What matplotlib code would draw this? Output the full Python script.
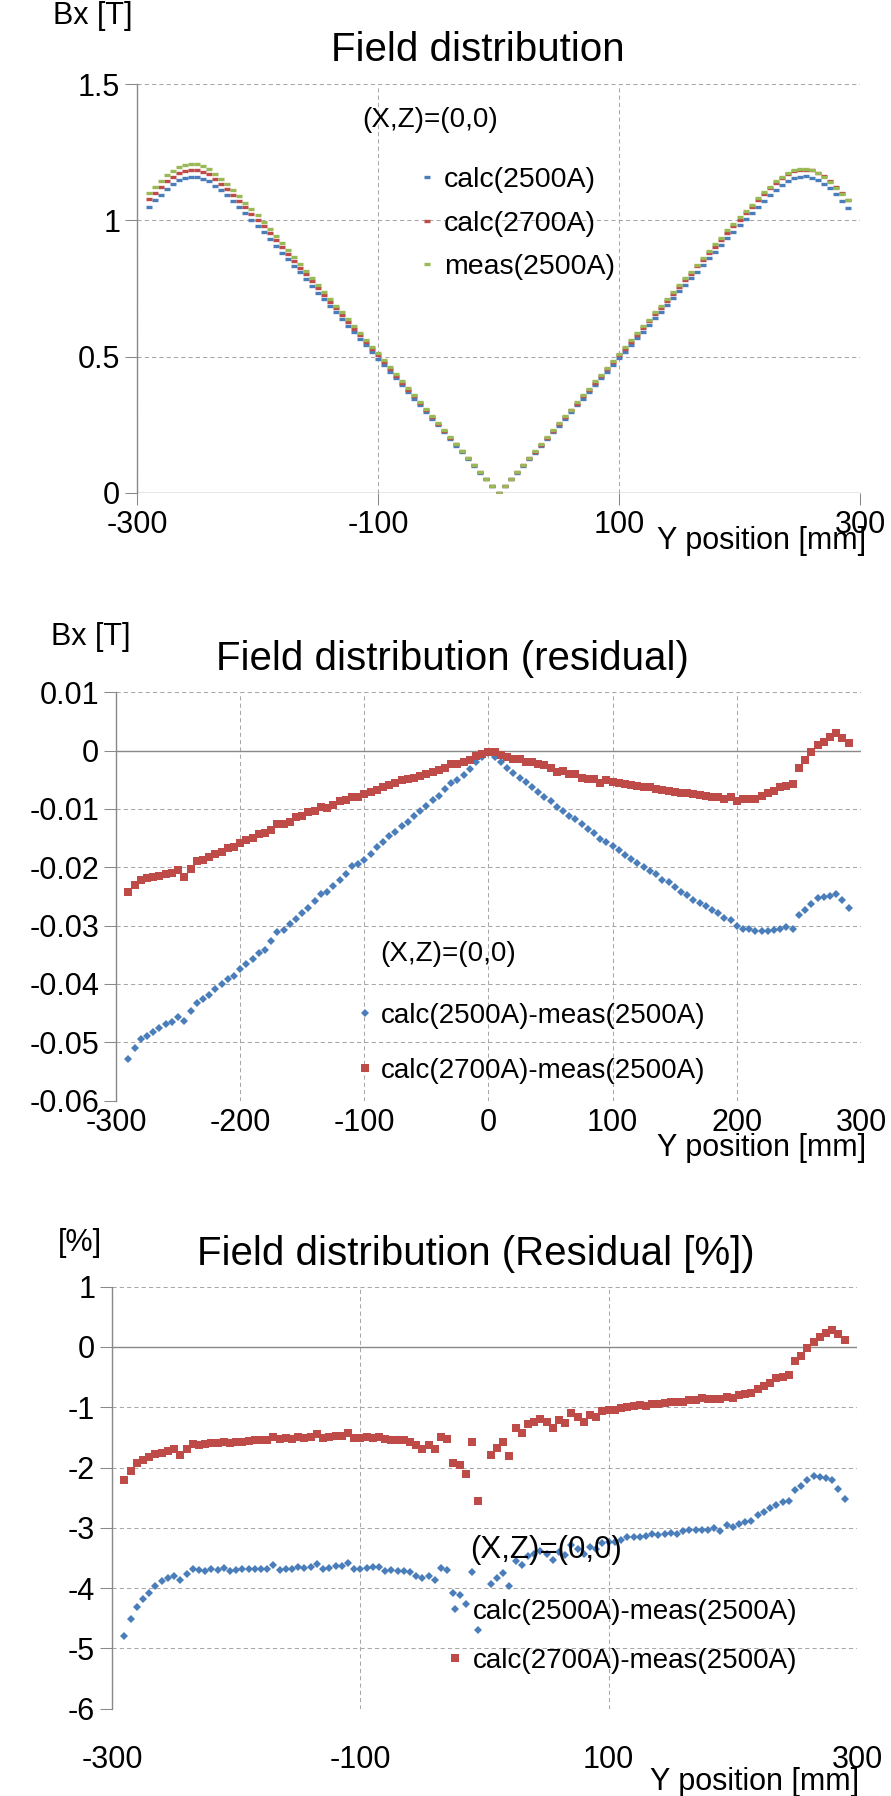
import numpy as np
import matplotlib
matplotlib.use('Agg')
import matplotlib.pyplot as plt

plt.rcParams['font.family'] = ['Liberation Sans', 'DejaVu Sans']

# --- data ---
y_pos = np.arange(-290, 295, 5)  # Y position [mm], 5 mm step

calc_2500 = [1.049, 1.073, 1.094, 1.116, 1.134, 1.147, 1.156, 1.159, 1.159, 1.153,
             1.144, 1.127, 1.110, 1.092, 1.071, 1.049, 1.026, 1.003, 0.980, 0.956,
             0.931, 0.907, 0.882, 0.858, 0.833, 0.809, 0.784, 0.760, 0.735, 0.711,
             0.686, 0.662, 0.638, 0.614, 0.590, 0.565, 0.541, 0.517, 0.493, 0.468,
             0.444, 0.420, 0.395, 0.371, 0.346, 0.322, 0.297, 0.272, 0.248, 0.223,
             0.198, 0.174, 0.149, 0.124, 0.099, 0.075, 0.050, 0.025, 0.000,
             0.025, 0.050, 0.074, 0.099, 0.124, 0.148, 0.173, 0.198, 0.222, 0.247,
             0.272, 0.296, 0.321, 0.346, 0.370, 0.395, 0.420, 0.444, 0.469, 0.494,
             0.518, 0.543, 0.567, 0.592, 0.616, 0.641, 0.665, 0.690, 0.714, 0.739,
             0.763, 0.787, 0.812, 0.836, 0.861, 0.885, 0.909, 0.934, 0.958, 0.982,
             1.005, 1.027, 1.050, 1.072, 1.093, 1.112, 1.129, 1.145, 1.155, 1.160,
             1.161, 1.157, 1.148, 1.135, 1.117, 1.095, 1.072, 1.046]

calc_2700 = [1.078, 1.101, 1.122, 1.143, 1.160, 1.173, 1.182, 1.185, 1.184, 1.177,
             1.169, 1.151, 1.134, 1.116, 1.094, 1.072, 1.048, 1.025, 1.002, 0.978,
             0.952, 0.928, 0.902, 0.877, 0.851, 0.827, 0.802, 0.778, 0.752, 0.727,
             0.702, 0.677, 0.652, 0.628, 0.603, 0.578, 0.553, 0.528, 0.505, 0.479,
             0.454, 0.430, 0.404, 0.379, 0.354, 0.329, 0.303, 0.278, 0.254, 0.228,
             0.203, 0.178, 0.153, 0.127, 0.101, 0.076, 0.051, 0.025, 0.000,
             0.026, 0.051, 0.076, 0.101, 0.127, 0.151, 0.177, 0.203, 0.228, 0.253,
             0.278, 0.303, 0.328, 0.354, 0.378, 0.404, 0.429, 0.454, 0.480, 0.505,
             0.529, 0.555, 0.580, 0.605, 0.630, 0.656, 0.679, 0.705, 0.730, 0.755,
             0.780, 0.805, 0.831, 0.854, 0.880, 0.904, 0.929, 0.955, 0.979, 1.003,
             1.028, 1.050, 1.073, 1.095, 1.117, 1.136, 1.154, 1.169, 1.180, 1.185,
             1.186, 1.183, 1.174, 1.162, 1.144, 1.123, 1.100, 1.074]

meas_2500 = [1.102, 1.124, 1.144, 1.165, 1.182, 1.195, 1.203, 1.206, 1.205, 1.199,
             1.189, 1.170, 1.153, 1.134, 1.112, 1.089, 1.065, 1.042, 1.018, 0.993,
             0.967, 0.942, 0.916, 0.891, 0.864, 0.840, 0.814, 0.789, 0.763, 0.738,
             0.712, 0.687, 0.662, 0.637, 0.612, 0.586, 0.561, 0.536, 0.512, 0.486,
             0.461, 0.436, 0.410, 0.385, 0.359, 0.334, 0.308, 0.282, 0.258, 0.232,
             0.206, 0.181, 0.155, 0.129, 0.103, 0.078, 0.052, 0.026, 0.000,
             0.026, 0.052, 0.077, 0.103, 0.129, 0.153, 0.179, 0.205, 0.230, 0.256,
             0.282, 0.306, 0.332, 0.358, 0.383, 0.409, 0.434, 0.459, 0.485, 0.510,
             0.535, 0.561, 0.586, 0.611, 0.636, 0.662, 0.686, 0.712, 0.737, 0.762,
             0.787, 0.812, 0.838, 0.862, 0.888, 0.912, 0.937, 0.963, 0.987, 1.012,
             1.036, 1.058, 1.081, 1.103, 1.124, 1.143, 1.160, 1.175, 1.186, 1.188,
             1.188, 1.183, 1.173, 1.160, 1.142, 1.120, 1.098, 1.073]

# calc - meas [T]
res_2500 = [-0.0529, -0.0510, -0.0495, -0.0489, -0.0483, -0.0476, -0.0469, -0.0465, -0.0456, -0.0463,
            -0.0447, -0.0432, -0.0426, -0.0419, -0.0409, -0.0400, -0.0392, -0.0386, -0.0375, -0.0366,
            -0.0358, -0.0347, -0.0341, -0.0327, -0.0311, -0.0307, -0.0298, -0.0289, -0.0278, -0.0269,
            -0.0257, -0.0246, -0.0242, -0.0232, -0.0222, -0.0211, -0.0198, -0.0194, -0.0187, -0.0177,
            -0.0166, -0.0156, -0.0147, -0.0140, -0.0130, -0.0122, -0.0112, -0.0103, -0.0095, -0.0085,
            -0.0078, -0.0065, -0.0056, -0.0050, -0.0041, -0.0032, -0.0019, -0.0010, -0.0004,
            -0.0011, -0.0019, -0.0029, -0.0039, -0.0046, -0.0053, -0.0062, -0.0070, -0.0079, -0.0087,
            -0.0097, -0.0103, -0.0112, -0.0118, -0.0125, -0.0135, -0.0142, -0.0152, -0.0156, -0.0163,
            -0.0171, -0.0179, -0.0186, -0.0193, -0.0199, -0.0206, -0.0211, -0.0221, -0.0226, -0.0233,
            -0.0242, -0.0247, -0.0256, -0.0261, -0.0266, -0.0273, -0.0279, -0.0287, -0.0291, -0.0301,
            -0.0305, -0.0306, -0.0310, -0.0309, -0.0309, -0.0307, -0.0305, -0.0303, -0.0305, -0.0282,
            -0.0273, -0.0263, -0.0253, -0.0251, -0.0249, -0.0245, -0.0256, -0.0270]

res_2700 = [-0.0243, -0.0230, -0.0221, -0.0219, -0.0216, -0.0215, -0.0211, -0.0209, -0.0205, -0.0216,
            -0.0203, -0.0190, -0.0187, -0.0183, -0.0177, -0.0173, -0.0167, -0.0165, -0.0159, -0.0154,
            -0.0149, -0.0143, -0.0141, -0.0136, -0.0126, -0.0126, -0.0122, -0.0114, -0.0112, -0.0106,
            -0.0103, -0.0096, -0.0099, -0.0093, -0.0087, -0.0085, -0.0079, -0.0080, -0.0074, -0.0070,
            -0.0067, -0.0063, -0.0059, -0.0056, -0.0051, -0.0049, -0.0046, -0.0043, -0.0040, -0.0036,
            -0.0033, -0.0029, -0.0022, -0.0023, -0.0019, -0.0016, -0.0009, -0.0006, -0.0002,
            -0.0003, -0.0007, -0.0011, -0.0015, -0.0015, -0.0019, -0.0019, -0.0023, -0.0025, -0.0029,
            -0.0036, -0.0034, -0.0040, -0.0040, -0.0046, -0.0049, -0.0049, -0.0055, -0.0050, -0.0053,
            -0.0056, -0.0057, -0.0059, -0.0061, -0.0063, -0.0063, -0.0066, -0.0067, -0.0069, -0.0070,
            -0.0072, -0.0073, -0.0074, -0.0076, -0.0078, -0.0079, -0.0080, -0.0083, -0.0080, -0.0086,
            -0.0083, -0.0082, -0.0082, -0.0078, -0.0073, -0.0069, -0.0063, -0.0061, -0.0057, -0.0029,
            -0.0016, -0.0003, 0.0010, 0.0015, 0.0023, 0.0030, 0.0021, 0.0014]

# residual in percent (point at Y=0 is off scale)
pct_2500 = [-4.80, -4.52, -4.31, -4.18, -4.08, -3.96, -3.89, -3.83, -3.80, -3.86,
            -3.76, -3.69, -3.70, -3.71, -3.69, -3.70, -3.67, -3.71, -3.70, -3.69,
            -3.69, -3.69, -3.69, -3.69, -3.61, -3.70, -3.69, -3.69, -3.65, -3.67,
            -3.65, -3.60, -3.69, -3.67, -3.64, -3.64, -3.59, -3.69, -3.69, -3.67,
            -3.65, -3.65, -3.71, -3.70, -3.71, -3.72, -3.74, -3.80, -3.83, -3.80,
            -3.86, -3.67, -3.70, -4.08, -4.11, -4.26, -3.74, -4.69, np.nan,
            -3.94, -3.84, -3.75, -3.97, -3.55, -3.62, -3.46, -3.43, -3.38, -3.43,
            -3.54, -3.40, -3.45, -3.29, -3.35, -3.43, -3.32, -3.35, -3.25, -3.23,
            -3.24, -3.20, -3.16, -3.15, -3.15, -3.14, -3.11, -3.12, -3.10, -3.09,
            -3.10, -3.05, -3.04, -3.04, -3.03, -3.03, -3.00, -3.05, -2.96, -2.99,
            -2.93, -2.90, -2.88, -2.79, -2.74, -2.68, -2.63, -2.57, -2.55, -2.37,
            -2.31, -2.21, -2.14, -2.16, -2.17, -2.21, -2.35, -2.53]

pct_2700 = [-2.20, -2.05, -1.92, -1.87, -1.82, -1.77, -1.76, -1.72, -1.69, -1.79,
            -1.70, -1.61, -1.62, -1.61, -1.60, -1.59, -1.57, -1.59, -1.57, -1.57,
            -1.56, -1.55, -1.54, -1.54, -1.49, -1.53, -1.51, -1.53, -1.49, -1.51,
            -1.50, -1.44, -1.51, -1.50, -1.48, -1.48, -1.42, -1.51, -1.51, -1.49,
            -1.51, -1.49, -1.53, -1.54, -1.54, -1.54, -1.57, -1.62, -1.70, -1.62,
            -1.70, -1.49, -1.53, -1.93, -1.96, -2.10, -1.57, -2.56, np.nan,
            -1.80, -1.68, -1.57, -1.81, -1.35, -1.42, -1.27, -1.24, -1.19, -1.24,
            -1.35, -1.21, -1.26, -1.10, -1.16, -1.24, -1.13, -1.16, -1.06, -1.04,
            -1.05, -1.02, -1.00, -0.98, -0.96, -0.98, -0.95, -0.95, -0.93, -0.91,
            -0.91, -0.91, -0.88, -0.88, -0.85, -0.87, -0.87, -0.87, -0.83, -0.84,
            -0.80, -0.78, -0.76, -0.69, -0.65, -0.59, -0.52, -0.49, -0.47, -0.23,
            -0.15, -0.02, 0.09, 0.17, 0.23, 0.28, 0.21, 0.12]

top_yticks = [0, 0.5, 1, 1.5]
top_ylabels = ['0', '0.5', '1', '1.5']
mid_yticks = [0.01, 0, -0.01, -0.02, -0.03, -0.04, -0.05, -0.06]
mid_ylabels = ['0.01', '0', '-0.01', '-0.02', '-0.03', '-0.04', '-0.05', '-0.06']
bot_yticks = [1, 0, -1, -2, -3, -4, -5, -6]
bot_ylabels = ['1', '0', '-1', '-2', '-3', '-4', '-5', '-6']
xticks_sparse = [-300, -100, 100, 300]
xticks_dense = [-300, -200, -100, 0, 100, 200, 300]

BLUE, RED, GREEN = '#4a7ebb', '#be4b48', '#98b954'
AXC, GRIDC = '#898989', '#a8a8a8'

W, H = 891, 1796
fig = plt.figure(figsize=(W / 100, H / 100), dpi=100, facecolor='white')


def box(l, t, r, b):
    return [l / W, 1 - b / H, (r - l) / W, (b - t) / H]


def px(x, y):
    return x / W, 1 - y / H


def style(ax, ylim, yticks, ylabels, xticks, xpad, xtick_len):
    ax.set_xlim(-300, 300)
    ax.set_ylim(*ylim)
    ax.set_xticks(xticks)
    ax.set_xticklabels([str(t) for t in xticks])
    ax.set_yticks(yticks)
    ax.set_yticklabels(ylabels)
    ax.grid(True, color=GRIDC, lw=0.75, ls=(0, (4, 3)))
    ax.set_axisbelow(True)
    for s in ['top', 'right', 'bottom']:
        ax.spines[s].set_visible(False)
    ax.spines['left'].set_color(AXC)
    ax.spines['left'].set_linewidth(1.0)
    ax.axhline(0, color=AXC, lw=1.0, zorder=1.5)
    ax.tick_params(axis='y', direction='out', length=8.6, width=0.75,
                   color=AXC, pad=3.5, labelsize=22)
    ax.tick_params(axis='x', direction='out', length=xtick_len, width=0.75,
                   color=AXC, pad=xpad, labelsize=22)


# --- top: field distribution ---
ax1 = fig.add_axes(box(137, 84, 860, 493))
style(ax1, (0, 1.5), top_yticks, top_ylabels, xticks_sparse, 3.5, 8.6)
h1, = ax1.plot(y_pos, calc_2500, ls='none', marker='_', ms=4, mew=2.4, color=BLUE, label='calc(2500A)')
h2, = ax1.plot(y_pos, calc_2700, ls='none', marker='_', ms=4, mew=2.4, color=RED, label='calc(2700A)')
h3, = ax1.plot(y_pos, meas_2500, ls='none', marker='_', ms=4, mew=2.4, color=GREEN, label='meas(2500A)')
ax1.legend(handles=[h1, h2, h3], loc='upper left', bbox_to_anchor=px(420, 167),
           bbox_transform=fig.transFigure, frameon=False, fontsize=20.5,
           handlelength=0.5, handletextpad=0.35, labelspacing=0.62,
           borderpad=0, borderaxespad=0)
fig.text(*px(93, 16), 'Bx [T]', fontsize=22, ha='center', va='center')
fig.text(*px(478, 50), 'Field distribution', fontsize=29, ha='center', va='center')
fig.text(*px(362, 120), '(X,Z)=(0,0)', fontsize=20, ha='left', va='center')
fig.text(*px(866, 541), 'Y position [mm]', fontsize=22, ha='right', va='center')

# --- middle: residual [T] ---
ax2 = fig.add_axes(box(116, 692.4, 861, 1100.5))
style(ax2, (-0.06, 0.01), mid_yticks, mid_ylabels, xticks_dense, 5.6, 0)
m1, = ax2.plot(y_pos, res_2500, ls='none', marker='D', ms=4.2, mew=0, color=BLUE,
               label='calc(2500A)-meas(2500A)')
m2, = ax2.plot(y_pos, res_2700, ls='none', marker='s', ms=6.2, mew=0, color=RED,
               label='calc(2700A)-meas(2500A)')
ax2.legend(handles=[m1, m2], loc='upper left', bbox_to_anchor=px(358, 1003),
           bbox_transform=fig.transFigure, frameon=False, fontsize=20,
           handlelength=0.5, handletextpad=0.33, labelspacing=1.05,
           borderpad=0, borderaxespad=0)
fig.text(*px(91, 637), 'Bx [T]', fontsize=22, ha='center', va='center')
fig.text(*px(452, 659), 'Field distribution (residual)', fontsize=29, ha='center', va='center')
fig.text(*px(380, 954), '(X,Z)=(0,0)', fontsize=20, ha='left', va='center')
fig.text(*px(866, 1148), 'Y position [mm]', fontsize=22, ha='right', va='center')

# --- bottom: residual [%] ---
ax3 = fig.add_axes(box(112, 1286.7, 857, 1708.6))
style(ax3, (-6, 1), bot_yticks, bot_ylabels, xticks_sparse, 26.4, 0)
b1, = ax3.plot(y_pos, pct_2500, ls='none', marker='D', ms=4.2, mew=0, color=BLUE,
               label='calc(2500A)-meas(2500A)')
b2, = ax3.plot(y_pos, pct_2700, ls='none', marker='s', ms=6.2, mew=0, color=RED,
               label='calc(2700A)-meas(2500A)')
ax3.legend(handles=[b1, b2], loc='upper left', bbox_to_anchor=px(448, 1599),
           bbox_transform=fig.transFigure, frameon=False, fontsize=20,
           handlelength=0.5, handletextpad=0.4, labelspacing=0.83,
           borderpad=0, borderaxespad=0)
fig.text(*px(80, 1243), '[%]', fontsize=22, ha='center', va='center')
fig.text(*px(476, 1254), 'Field distribution (Residual [%])', fontsize=29, ha='center', va='center')
fig.text(*px(470, 1550), '(X,Z)=(0,0)', fontsize=22.5, ha='left', va='center')
fig.text(*px(859, 1782), 'Y position [mm]', fontsize=22, ha='right', va='center')

fig.savefig('out.png', dpi=100, facecolor='white')
